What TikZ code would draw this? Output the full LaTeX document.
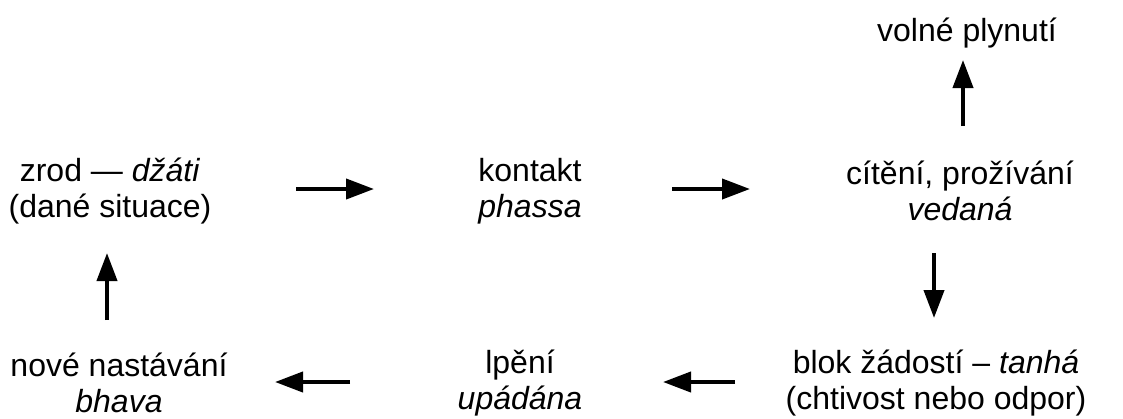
\documentclass[tikz,border=0pt]{standalone}
\usepackage{fontspec}
\setmainfont{Liberation Sans}
\usetikzlibrary{arrows.meta}
\begin{document}
\begin{tikzpicture}[x=0.75pt,y=-0.75pt,
  lbl/.style={inner sep=0pt,align=center,font=\fontsize{24}{27}\selectfont},
  flow/.style={line width=3pt,-{Triangle[length=21pt,width=15pt]}}]
\useasboundingbox (0,0) rectangle (1123,418);
\node[lbl] (zrod) at (110,191) {zrod — \textit{džáti}\\(dané situace)};
\node[lbl] (kontakt) at (530,191) {kontakt\\\textit{phassa}};
\node[lbl] (citeni) at (960,191) {cítění, prožívání\\\textit{vedaná}};
\node[lbl] (volne) at (967,33) {volné plynutí};
\node[lbl] (blok) at (936,383) {blok žádostí – \textit{tanhá}\\(chtivost nebo odpor)};
\node[lbl] (lpeni) at (520,383) {lpění\\\textit{upádána}};
\node[lbl] (nove) at (119,383) {nové nastávání\\\textit{bhava}};
\coordinate (a1s) at (296,189); \coordinate (a1e) at (374,189);
\coordinate (a2s) at (672,189); \coordinate (a2e) at (750,189);
\coordinate (a3s) at (963,126); \coordinate (a3e) at (963,60);
\coordinate (a4s) at (934,253); \coordinate (a4e) at (934,318);
\coordinate (a5s) at (735,382); \coordinate (a5e) at (663,382);
\coordinate (a6s) at (350,382); \coordinate (a6e) at (275,382);
\coordinate (a7s) at (107,320); \coordinate (a7e) at (107,253);
\draw[flow] (a1s) -- (a1e);
\draw[flow] (a2s) -- (a2e);
\draw[flow] (a3s) -- (a3e);
\draw[flow] (a4s) -- (a4e);
\draw[flow] (a5s) -- (a5e);
\draw[flow] (a6s) -- (a6e);
\draw[flow] (a7s) -- (a7e);
\end{tikzpicture}
\end{document}
